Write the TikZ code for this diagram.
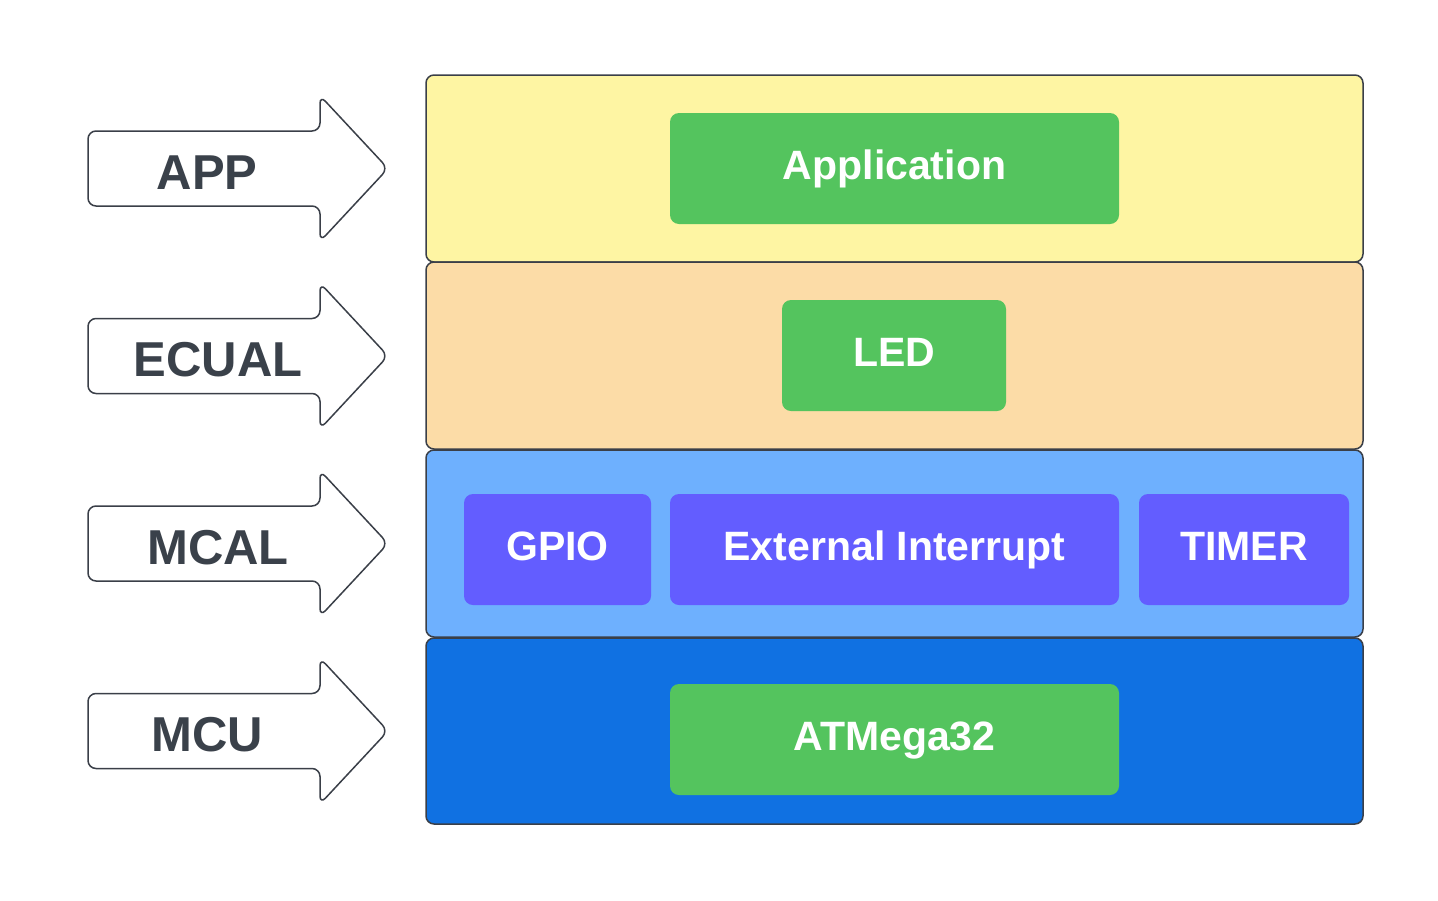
\documentclass[tikz,border=0pt]{standalone}
\usepackage{fontspec}
\setmainfont{Liberation Sans}
\definecolor{cyel}{HTML}{FEF5A3}
\definecolor{corg}{HTML}{FCDCA7}
\definecolor{clbl}{HTML}{6EB0FE}
\definecolor{cdbl}{HTML}{1071E2}
\definecolor{cgrn}{HTML}{54C45E}
\definecolor{cpur}{HTML}{635DFF}
\definecolor{cedge}{HTML}{3A3F48}
\definecolor{ctxt}{HTML}{3A414A}
\begin{document}
\begin{tikzpicture}[x=1pt,y=-1pt,
  layer/.style={draw=cedge,line width=1.5pt,rounded corners=8pt},
  gbox/.style={fill=cgrn,rounded corners=9pt},
  pbox/.style={fill=cpur,rounded corners=9pt},
  btxt/.style={anchor=base,text=white,font=\fontsize{41}{41}\selectfont\bfseries},
  atxt/.style={anchor=base,text=ctxt,font=\fontsize{49}{49}\selectfont\bfseries},
  arrowshape/.style={draw=cedge,line width=1.5pt,fill=white,rounded corners=8pt}]
\useasboundingbox (0,0) rectangle (1438,900);
% layers
\draw[layer,fill=cyel] (426,75) rectangle (1363,262);
\draw[layer,fill=corg] (426,262) rectangle (1363,449);
\draw[layer,fill=clbl] (426,450) rectangle (1363,637);
\draw[layer,fill=cdbl] (426,638) rectangle (1363,824);
% inner boxes
\fill[gbox] (670,113) rectangle (1119,224);
\node[btxt] (app) at (894.5,179) {Application};
\fill[gbox] (782,300) rectangle (1006,411);
\node[btxt] (led) at (894,366) {LED};
\fill[pbox] (464,494) rectangle (651,605);
\node[btxt] (gpio) at (557.5,560) {GPIO};
\fill[pbox] (670,494) rectangle (1119,605);
\node[btxt] (ext) at (894.5,560) {External Interrupt};
\fill[pbox] (1139,494) rectangle (1349,605);
\node[btxt] (timer) at (1244,560) {TIMER};
\fill[gbox] (670,684) rectangle (1119,795);
\node[btxt] (atm) at (894.5,750) {ATMega32};
% arrows
\foreach \c/\lab/\lx in {168.5/APP/207,356/ECUAL/218,543.5/MCAL/218,731/MCU/207}{
  \draw[arrowshape] (88,\c-37.5) -- (320,\c-37.5) -- (320,\c-73) -- (388,\c) -- (320,\c+73) -- (320,\c+37.5) -- (88,\c+37.5) -- cycle;
  \node[atxt] at (\lx,\c+20.5) {\lab};
}
\end{tikzpicture}
\end{document}
